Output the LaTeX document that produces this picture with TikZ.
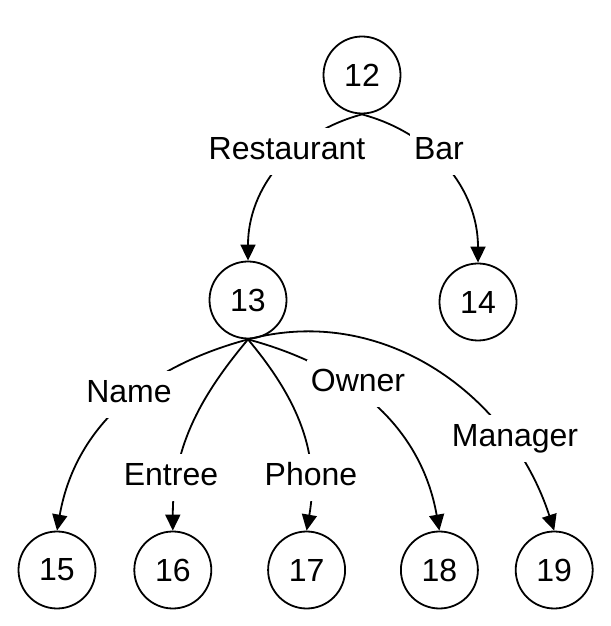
\documentclass[tikz,border=0pt]{standalone}
\usepackage{fontspec}
\setmainfont{Liberation Sans}
\usetikzlibrary{arrows.meta,positioning}

\begin{document}
\begin{tikzpicture}[
  x=1pt, y=1pt,
  font=\fontsize{32}{38}\selectfont,
  vertex/.style={draw, circle, line width=1.8pt, minimum size=77pt, inner sep=0pt},
  lbl/.style={fill=white, anchor=base, inner xsep=4pt, inner ysep=9pt,
              text height=23pt, text depth=6pt},
  arrow/.style={-{Triangle[length=16pt, width=15pt]}, line width=1.8pt}
]
  \useasboundingbox (0,0) rectangle (610,626);
  \node[vertex] (n12) at (362,551) {12};
  \node[vertex] (n13) at (248,326) {13};
  \node[vertex] (n14) at (478,324) {14};
  \node[vertex] (n15) at (57,56) {15};
  \node[vertex, right=37pt of n15] (n16) {16};
  \node[vertex, right=55pt of n16] (n17) {17};
  \node[vertex, right=54pt of n17] (n18) {18};
  \node[vertex, right=36pt of n18] (n19) {19};
  \draw[arrow] (n12.south) to[out=195, in=90] (n13);
  \draw[arrow] (n12.south) to[out=-15, in=90] (n14);
  \draw[arrow] (n13.south) to[out=195, in=80] (n15.north);
  \draw[arrow] (n13.south) to[out=230, in=90] (n16);
  \draw[arrow] (n13.south) to[out=-50, in=80] (n17.north);
  \draw[arrow] (n13.south) to[out=-15, in=100] (n18.north);
  \draw[arrow] (n13.south) to[out=15, in=108] (n19.north);
  % edge labels sit on top of the curves
  \node[lbl] (restaurant) at (287,466) {Restaurant};
  \node[lbl] (bar) at (439,466) {Bar};
  \node[lbl] (name) at (129,223) {Name};
  \node[lbl] (entree) at (171,140) {Entree};
  \node[lbl] (phone) at (311,140) {Phone};
  \node[lbl] (owner) at (358,234) {Owner};
  \node[lbl] (manager) at (515,179) {Manager};
\end{tikzpicture}
\end{document}
